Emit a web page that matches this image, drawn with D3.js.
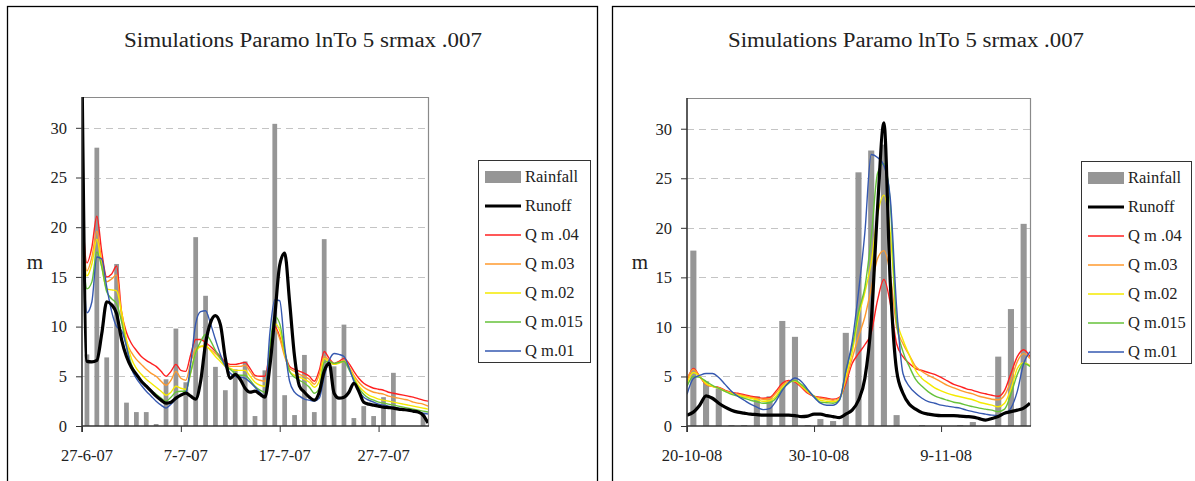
<!DOCTYPE html>
<html>
<head>
<meta charset="utf-8">
<script src="https://cdn.jsdelivr.net/npm/d3@7"></script>
<style>
  body { margin: 0; background: #fff; }
  svg text { font-family: "Liberation Serif", "DejaVu Serif", serif; fill: #222; }
</style>
</head>
<body>
<div id="chart"></div>
<script>
// ---- data ----
var chartTitle = "Simulations Paramo lnTo 5 srmax .007";
var legendNames = ["Rainfall", "Runoff", "Q m .04", "Q m.03", "Q m.02", "Q m.015", "Q m.01"];
var yTicks = [0, 5, 10, 15, 20, 25, 30];

// left panel: 27-6-07 .. 1-8-07, daily rain, half-day flows
var leftTickDays = [0, 10, 20, 30];
var leftTickLabels = ["27-6-07", "7-7-07", "17-7-07", "27-7-07"];
var leftRain = [7.2, 28.0, 6.9, 16.3, 2.35, 1.4, 1.4, 0.2, 4.7, 9.8, 4.4, 19.0, 13.1, 5.95, 3.6,
  5.7, 6.5, 1.0, 5.6, 30.4, 3.1, 1.1, 7.15, 1.4, 18.8, 6.0, 10.2, 0.8, 2.0, 1.0, 2.9, 5.35, 0, 0, 1.3];
var leftRunoff = [36, 6.5, 6.45, 6.6, 9.3, 12.5, 12.2, 11.3, 8.7, 7.0, 5.9, 5.2, 4.5, 4.0, 3.5, 3.0,
  2.6, 2.3, 2.4, 2.8, 3.1, 3.3, 3.0, 2.7, 4.5, 8.3, 10.4, 11.1, 10.2, 6.8, 4.8, 5.2, 4.7, 3.8, 3.4,
  3.5, 3.2, 2.9, 6.0, 11.0, 16.2, 17.4, 12.5, 7.0, 4.0, 3.4, 2.9, 2.6, 3.4, 5.5, 6.3, 3.3, 2.8, 2.9,
  3.4, 4.3, 3.5, 2.4, 2.2, 2.1, 2.0, 1.9, 1.85, 1.8, 1.7, 1.65, 1.6, 1.5, 1.4, 1.1, 0.3];
var leftQ04 = [22.5, 16.4, 18.0, 21.1, 17.5, 15.0, 15.3, 16.1, 11.5, 9.4, 8.3, 7.6, 7.0, 6.6, 6.3, 6.0,
  5.5, 5.0, 5.5, 6.2, 5.6, 5.5, 7.2, 8.7, 8.7, 8.4, 8.0, 7.5, 7.0, 6.4, 6.2, 6.2, 6.3, 6.4, 5.8, 5.1,
  5.0, 5.0, 7.6, 10.0, 9.0, 7.3, 6.0, 5.7, 5.5, 5.3, 5.0, 4.5, 5.6, 7.5, 6.8, 6.3, 6.5, 6.8, 6.3, 5.5,
  4.8, 4.3, 4.0, 3.8, 3.7, 3.6, 3.4, 3.3, 3.2, 3.1, 3.0, 2.9, 2.75, 2.6, 2.5];
var leftQ03 = [22.0, 15.6, 17.0, 19.6, 16.5, 14.5, 14.8, 15.2, 11.0, 8.5, 7.4, 6.7, 6.2, 5.7, 5.3, 5.0,
  4.5, 4.1, 4.6, 5.5, 4.8, 4.6, 6.4, 7.8, 8.0, 8.0, 7.7, 7.3, 6.8, 6.2, 6.0, 6.0, 6.0, 6.1, 5.5, 4.8,
  4.6, 4.5, 7.2, 9.8, 8.8, 7.0, 5.8, 5.5, 5.2, 5.0, 4.7, 4.2, 5.2, 7.0, 6.6, 6.2, 6.4, 6.6, 6.0, 5.1,
  4.4, 3.9, 3.6, 3.4, 3.3, 3.2, 3.0, 2.9, 2.8, 2.7, 2.6, 2.4, 2.3, 2.2, 2.0];
var leftQ02 = [20.5, 15.1, 16.3, 18.8, 16.0, 13.8, 13.7, 13.6, 11.5, 8.7, 6.8, 5.8, 5.2, 4.7, 4.3, 3.9,
  3.5, 3.1, 3.4, 4.0, 3.8, 3.7, 5.4, 7.4, 8.0, 8.1, 7.6, 7.0, 6.5, 6.0, 5.8, 5.6, 5.6, 5.6, 5.0, 4.4,
  4.1, 4.0, 7.5, 10.3, 9.6, 7.3, 5.5, 5.1, 4.9, 4.7, 4.4, 3.9, 4.5, 6.8, 6.4, 6.2, 6.3, 6.5, 5.9, 4.9,
  4.0, 3.5, 3.1, 2.9, 2.7, 2.6, 2.5, 2.4, 2.3, 2.2, 2.1, 2.0, 1.9, 1.8, 1.7];
var leftQ015 = [19.5, 13.8, 14.5, 17.5, 16.0, 13.5, 12.8, 12.3, 10.5, 8.0, 6.2, 5.2, 4.6, 4.1, 3.6, 3.2,
  2.8, 2.5, 2.9, 3.4, 3.5, 3.5, 5.4, 7.4, 8.5, 9.2, 8.6, 7.6, 6.8, 6.1, 5.7, 5.3, 5.1, 5.1, 4.6, 4.0,
  3.6, 3.4, 8.0, 11.0, 10.3, 7.6, 5.5, 4.9, 4.6, 4.3, 3.9, 3.3, 3.8, 6.4, 6.5, 6.3, 6.4, 6.5, 5.7, 4.7,
  3.8, 3.2, 2.8, 2.6, 2.4, 2.3, 2.2, 2.1, 2.0, 1.9, 1.8, 1.7, 1.6, 1.5, 1.4];
var leftQ01 = [22.0, 11.4, 12.5, 17.0, 16.8, 14.0, 11.5, 10.0, 9.6, 8.0, 5.8, 4.8, 4.1, 3.5, 3.0, 2.5,
  2.1, 1.8, 2.2, 2.7, 3.1, 3.3, 6.3, 10.3, 11.5, 11.6, 10.3, 8.7, 7.2, 6.0, 5.3, 5.0, 4.9, 4.8, 4.4, 3.9,
  3.4, 3.0, 9.3, 12.7, 12.6, 8.0, 4.5, 3.4, 3.0, 2.7, 2.6, 2.5, 2.8, 5.0, 6.6, 7.3, 7.2, 7.0, 5.9, 4.5,
  3.5, 2.9, 2.6, 2.4, 2.2, 2.1, 2.0, 1.9, 1.8, 1.7, 1.6, 1.5, 1.4, 1.3, 1.2];

// right panel: 20-10-08 .. 16-11-08
var rightTickDays = [0, 10, 20];
var rightTickLabels = ["20-10-08", "30-10-08", "9-11-08"];
var rightRain = [17.7, 4.5, 3.8, 0.1, 0.1, 3.0, 3.0, 10.6, 9.0, 0.1, 0.7, 0.5, 9.4, 25.6, 27.8, 28.4,
  1.1, 0, 0.1, 0, 0, 0.1, 0.4, 0, 7.0, 11.8, 20.4];
var rightRunoff = [1.1, 1.4, 2.1, 3.05, 2.8, 2.3, 1.9, 1.6, 1.4, 1.3, 1.2, 1.15, 1.1, 1.1, 1.1, 1.1,
  1.1, 1.05, 0.95, 1.0, 1.2, 1.2, 1.05, 0.95, 0.85, 1.2, 1.6, 2.6, 4.8, 10.5, 22, 30.6, 14.5, 5.6,
  3.3, 2.2, 1.7, 1.35, 1.2, 1.1, 1.05, 1.05, 1.05, 1.0, 0.95, 0.9, 0.75, 0.6, 0.75, 0.95, 1.3, 1.45,
  1.6, 1.8, 2.3];
var rightQ04 = [4.6, 5.8, 5.0, 4.2, 4.0, 3.9, 3.6, 3.4, 3.3, 3.15, 3.0, 2.9, 2.8, 2.85, 3.5, 4.3, 4.6,
  4.45, 3.9, 3.3, 3.0, 2.9, 2.8, 2.7, 2.9, 4.3, 6.3, 7.3, 8.2, 9.4, 12.7, 14.8, 12.4, 8.3, 7.0, 6.3,
  5.8, 5.6, 5.4, 5.2, 4.9, 4.55, 4.2, 4.0, 3.75, 3.6, 3.4, 3.25, 3.1, 3.0, 3.6, 5.3, 7.0, 7.7, 7.0];
var rightQ03 = [4.7, 5.7, 5.0, 4.2, 4.0, 3.85, 3.55, 3.35, 3.2, 3.05, 2.9, 2.8, 2.7, 2.75, 3.3, 4.1,
  4.5, 4.5, 4.0, 3.4, 3.0, 2.8, 2.7, 2.6, 2.8, 4.6, 6.8, 9.0, 11.0, 13.9, 16.9, 17.7, 15.3, 10.0, 8.3,
  7.15, 6.0, 5.5, 5.1, 4.8, 4.45, 4.1, 3.85, 3.6, 3.4, 3.25, 3.0, 2.85, 2.7, 2.65, 3.1, 4.6, 6.5, 7.3,
  6.8];
var rightQ02 = [4.3, 5.4, 5.0, 4.3, 4.0, 3.8, 3.5, 3.3, 3.1, 2.95, 2.8, 2.65, 2.5, 2.55, 3.0, 3.9, 4.4,
  4.55, 4.1, 3.5, 3.0, 2.6, 2.5, 2.45, 2.7, 5.0, 7.4, 11.0, 13.5, 16.5, 21.3, 23.3, 19.5, 11.0, 8.7,
  7.15, 5.6, 4.8, 4.3, 3.85, 3.55, 3.3, 3.1, 2.95, 2.8, 2.65, 2.4, 2.25, 2.1, 1.95, 2.3, 3.7, 5.8, 6.4,
  6.1];
var rightQ015 = [4.0, 5.0, 4.9, 4.5, 4.1, 3.8, 3.5, 3.2, 3.0, 2.8, 2.6, 2.45, 2.3, 2.35, 2.8, 3.7, 4.3,
  4.6, 4.2, 3.6, 3.0, 2.4, 2.35, 2.3, 2.6, 5.6, 8.0, 11.5, 14.0, 19.0, 25.5, 26.5, 22.5, 10.5, 7.5,
  6.0, 4.7, 4.0, 3.45, 3.05, 2.8, 2.6, 2.4, 2.3, 2.1, 1.95, 1.8, 1.7, 1.6, 1.45, 1.7, 3.2, 5.2, 6.3,
  6.0];
var rightQ01 = [3.2, 4.8, 5.1, 5.3, 5.3, 4.9, 4.2, 3.5, 3.0, 2.6, 2.2, 1.9, 1.65, 1.75, 2.5, 3.6, 4.4,
  4.85, 4.5, 3.7, 2.9, 2.3, 2.1, 2.1, 2.6, 5.5, 8.5, 13.5, 19.5, 27.4, 27.1, 26.3, 23.0, 12.0, 5.3,
  4.0, 3.3, 2.8, 2.45, 2.3, 2.1, 2.0, 1.9, 1.8, 1.6, 1.45, 1.3, 1.2, 1.1, 1.05, 1.2, 1.8, 3.5, 6.3,
  7.5];

// ---- styles ----
var qColors = ["#ff2020", "#ff9a2e", "#f5ea00", "#66c23a", "#3558b0"];
var rainColor = "#969696";
var serif = "'Liberation Serif', 'DejaVu Serif', serif";
var yMax = 33.1;

var svg = d3.select("#chart").append("svg")
  .attr("width", 1195)
  .attr("height", 481);

svg.append("rect").attr("width", 1195).attr("height", 481).attr("fill", "#fff");

function panel(cfg) {
  var g = svg.append("g");
  var nDays = cfg.rain.length;

  // outer frame
  g.append("rect")
    .attr("x", cfg.frameX + 0.5).attr("y", 6.5)
    .attr("width", cfg.frameW).attr("height", 490)
    .attr("fill", "none").attr("stroke", "#000").attr("stroke-width", 1.3);

  g.append("text")
    .attr("x", cfg.titleX).attr("y", 47)
    .attr("text-anchor", "middle")
    .attr("font-size", 20)
    .attr("textLength", cfg.titleW)
    .attr("lengthAdjust", "spacingAndGlyphs")
    .text(chartTitle);

  var x = d3.scaleLinear().domain([0, nDays]).range([cfg.left, cfg.right]);
  var y = d3.scaleLinear().domain([0, yMax]).range([cfg.bottom, cfg.top]);

  // dashed gridlines
  g.selectAll("line.grid")
    .data(yTicks.slice(1))
    .enter().append("line")
    .attr("class", "grid")
    .attr("x1", cfg.left).attr("x2", cfg.right)
    .attr("y1", function (d) { return Math.round(y(d)) + 0.5; })
    .attr("y2", function (d) { return Math.round(y(d)) + 0.5; })
    .attr("stroke", "#c4c4c4")
    .attr("stroke-dasharray", "7,5");

  // plot border (top / right)
  g.append("path")
    .attr("d", "M" + cfg.left + "," + (cfg.top + 0.5) + "H" + (cfg.right + 0.5) + "V" + cfg.bottom)
    .attr("fill", "none").attr("stroke", "#8a8a8a").attr("stroke-width", 1.2);

  var clipId = "clip" + cfg.frameX;
  g.append("clipPath").attr("id", clipId)
    .append("rect")
    .attr("x", cfg.left).attr("y", cfg.top)
    .attr("width", cfg.right - cfg.left).attr("height", cfg.bottom - cfg.top);

  var plot = g.append("g").attr("clip-path", "url(#" + clipId + ")");

  // rainfall bars
  var bw = (x(1) - x(0)) * 0.48;
  plot.selectAll("rect.bar")
    .data(cfg.rain)
    .enter().append("rect")
    .attr("class", "bar")
    .attr("x", function (d, i) { return x(i + 0.5) - bw / 2; })
    .attr("width", bw)
    .attr("y", function (d) { return y(d); })
    .attr("height", function (d) { return cfg.bottom - y(d); })
    .attr("fill", rainColor);

  var line = d3.line()
    .x(function (d, i) { return x(i * 0.5); })
    .y(function (d) { return y(d); })
    .curve(d3.curveMonotoneX);

  cfg.flows.forEach(function (s, k) {
    plot.append("path")
      .datum(s)
      .attr("d", line)
      .attr("fill", "none")
      .attr("stroke", qColors[k])
      .attr("stroke-width", 1.4);
  });

  plot.append("path")
    .datum(cfg.runoff)
    .attr("d", line)
    .attr("fill", "none")
    .attr("stroke", "#000")
    .attr("stroke-width", 3.2)
    .attr("stroke-linejoin", "round");

  // axes
  var yAxis = d3.axisLeft(y).tickValues(yTicks).tickSize(6).tickPadding(9);
  var yg = g.append("g")
    .attr("transform", "translate(" + cfg.left + ",0)")
    .call(yAxis)
    .attr("font-family", serif)
    .attr("font-size", 16.5);
  yg.select(".domain").attr("d", "M0," + (cfg.top) + "V" + (cfg.bottom + 6))
    .attr("stroke", "#333").attr("stroke-width", 1.6);
  yg.selectAll(".tick line").attr("stroke", "#333");
  yg.selectAll(".tick text").style("font-family", serif).attr("fill", "#222");

  var xAxis = d3.axisBottom(x)
    .tickValues(cfg.tickDays)
    .tickFormat(function (d, i) { return cfg.tickLabels[i]; })
    .tickSize(6).tickPadding(17);
  var xg = g.append("g")
    .attr("transform", "translate(0," + cfg.bottom + ")")
    .call(xAxis)
    .attr("font-family", serif)
    .attr("font-size", 16.5);
  xg.select(".domain").attr("d", "M" + cfg.left + ",0H" + (cfg.right + 1))
    .attr("stroke", "#333").attr("stroke-width", 1.6);
  xg.selectAll(".tick line").attr("stroke", "#333");
  xg.selectAll(".tick text")
    .attr("dx", 4.5)
    .style("font-family", serif)
    .attr("fill", "#222");

  g.append("text")
    .attr("x", cfg.frameX + 28).attr("y", 269)
    .attr("text-anchor", "middle")
    .attr("font-size", 21)
    .text("m");

  // legend
  var lg = g.append("g").attr("transform", "translate(" + cfg.legX + "," + cfg.legY + ")");
  lg.append("rect")
    .attr("x", 0.5).attr("y", 0.5)
    .attr("width", cfg.legW).attr("height", 202)
    .attr("fill", "#fff").attr("stroke", "#333");

  var items = lg.selectAll("g.item")
    .data(legendNames)
    .enter().append("g")
    .attr("class", "item")
    .attr("transform", function (d, i) { return "translate(7," + (17 + i * 29) + ")"; });

  items.each(function (d, i) {
    var it = d3.select(this);
    if (i === 0) {
      it.append("rect").attr("x", 0).attr("y", -6).attr("width", 36).attr("height", 12)
        .attr("fill", rainColor);
    } else {
      it.append("line").attr("x1", 0).attr("x2", 36).attr("y1", 0).attr("y2", 0)
        .attr("stroke", i === 1 ? "#000" : qColors[i - 2])
        .attr("stroke-width", i === 1 ? 3 : 1.4);
    }
    it.append("text").attr("x", 40).attr("dy", "0.33em")
      .style("font-family", serif)
      .attr("font-size", 16.5).text(d);
  });
}

panel({
  frameX: 7, frameW: 590, titleX: 303, titleW: 358,
  left: 82, right: 428, top: 97, bottom: 426,
  legX: 478, legY: 160, legW: 112,
  tickDays: leftTickDays, tickLabels: leftTickLabels,
  rain: leftRain, runoff: leftRunoff,
  flows: [leftQ04, leftQ03, leftQ02, leftQ015, leftQ01]
});

panel({
  frameX: 612, frameW: 600, titleX: 906, titleW: 356,
  left: 687, right: 1030, top: 98, bottom: 426,
  legX: 1081, legY: 161, legW: 110,
  tickDays: rightTickDays, tickLabels: rightTickLabels,
  rain: rightRain, runoff: rightRunoff,
  flows: [rightQ04, rightQ03, rightQ02, rightQ015, rightQ01]
});
</script>
</body>
</html>
